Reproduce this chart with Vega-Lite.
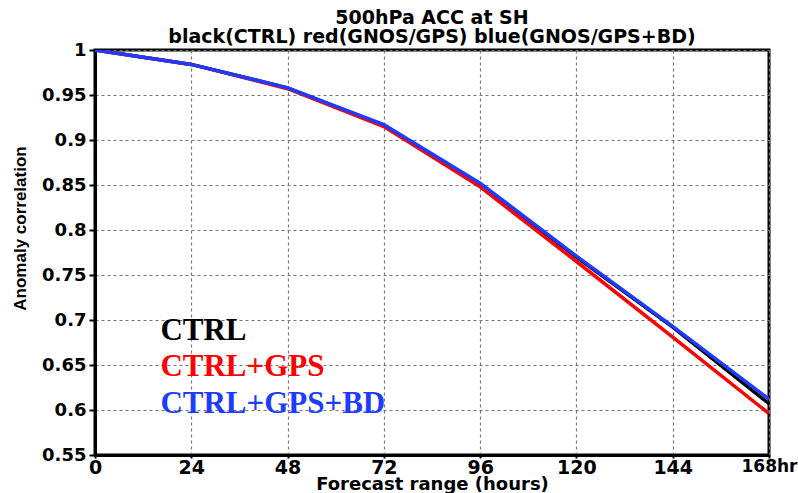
{
  "$schema": "https://vega.github.io/schema/vega-lite/v6.json",
  "width": 674,
  "height": 405,
  "autosize": "none",
  "padding": {"left": 95, "top": 50, "right": 29, "bottom": 38},
  "background": "white",
  "title": {
    "text": ["500hPa ACC at SH", "black(CTRL) red(GNOS/GPS) blue(GNOS/GPS+BD)"],
    "font": "DejaVu Sans",
    "fontSize": 19,
    "fontWeight": "bold",
    "color": "black",
    "anchor": "middle",
    "lineHeight": 19,
    "offset": -6
  },
  "config": {
    "view": {"stroke": "black", "strokeWidth": 3},
    "axis": {
      "labelFont": "DejaVu Sans",
      "labelFontSize": 18,
      "labelFontWeight": "bold",
      "labelColor": "black",
      "titleColor": "black",
      "domainColor": "black",
      "domainWidth": 3,
      "tickColor": "black",
      "tickWidth": 2,
      "gridColor": "#777777",
      "gridDash": [3, 3],
      "gridWidth": 1.2,
      "gridOpacity": 1,
      "labelFlush": false
    }
  },
  "datasets": {
    "lines": [
      {"h": 0, "acc": 1.0, "exp": "CTRL"},
      {"h": 24, "acc": 0.984, "exp": "CTRL"},
      {"h": 48, "acc": 0.958, "exp": "CTRL"},
      {"h": 72, "acc": 0.916, "exp": "CTRL"},
      {"h": 96, "acc": 0.851, "exp": "CTRL"},
      {"h": 120, "acc": 0.770, "exp": "CTRL"},
      {"h": 144, "acc": 0.692, "exp": "CTRL"},
      {"h": 168, "acc": 0.607, "exp": "CTRL"},
      {"h": 0, "acc": 1.0, "exp": "CTRL+GPS"},
      {"h": 24, "acc": 0.984, "exp": "CTRL+GPS"},
      {"h": 48, "acc": 0.957, "exp": "CTRL+GPS"},
      {"h": 72, "acc": 0.915, "exp": "CTRL+GPS"},
      {"h": 96, "acc": 0.848, "exp": "CTRL+GPS"},
      {"h": 120, "acc": 0.765, "exp": "CTRL+GPS"},
      {"h": 144, "acc": 0.681, "exp": "CTRL+GPS"},
      {"h": 168, "acc": 0.596, "exp": "CTRL+GPS"},
      {"h": 0, "acc": 1.0, "exp": "CTRL+GPS+BD"},
      {"h": 24, "acc": 0.984, "exp": "CTRL+GPS+BD"},
      {"h": 48, "acc": 0.958, "exp": "CTRL+GPS+BD"},
      {"h": 72, "acc": 0.917, "exp": "CTRL+GPS+BD"},
      {"h": 96, "acc": 0.852, "exp": "CTRL+GPS+BD"},
      {"h": 120, "acc": 0.771, "exp": "CTRL+GPS+BD"},
      {"h": 144, "acc": 0.693, "exp": "CTRL+GPS+BD"},
      {"h": 168, "acc": 0.612, "exp": "CTRL+GPS+BD"}
    ],
    "labels": [
      {"h": 16.3, "acc": 0.678, "exp": "CTRL"},
      {"h": 16.3, "acc": 0.638, "exp": "CTRL+GPS"},
      {"h": 16.3, "acc": 0.597, "exp": "CTRL+GPS+BD"}
    ]
  },
  "layer": [
    {
      "data": {"name": "lines"},
      "mark": {"type": "line", "strokeWidth": 3.5, "clip": true},
      "encoding": {
        "x": {
          "field": "h",
          "type": "quantitative",
          "scale": {"domain": [0, 168], "nice": false, "zero": false},
          "axis": {
            "values": [0, 24, 48, 72, 96, 120, 144, 168],
            "labelExpr": "datum.value == 168 ? '168hr' : datum.label",
            "labelFontSize": {"condition": {"test": "datum.value == 168", "value": 17}, "value": 19},
            "tickSize": 3,
            "labelPadding": 0,
            "title": "Forecast range (hours)",
            "titleFont": "DejaVu Sans",
            "titleFontSize": 18,
            "titleFontWeight": "bold",
            "titlePadding": -2
          }
        },
        "y": {
          "field": "acc",
          "type": "quantitative",
          "scale": {"domain": [0.55, 1], "nice": false, "zero": false},
          "axis": {
            "values": [0.55, 0.6, 0.65, 0.7, 0.75, 0.8, 0.85, 0.9, 0.95, 1],
            "labelExpr": "datum.value == 1 ? '1' : format(datum.value, '.2~f')",
            "tickSize": 6,
            "labelPadding": 3,
            "title": "Anomaly correlation",
            "titleFont": "Liberation Sans",
            "titleFontSize": 17,
            "titleFontWeight": "bold",
            "titlePadding": 12,
            "titleY": 178
          }
        },
        "color": {
          "field": "exp",
          "type": "nominal",
          "scale": {"domain": ["CTRL", "CTRL+GPS", "CTRL+GPS+BD"], "range": ["#000000", "#ff0000", "#1e3cff"]},
          "legend": null
        },
        "order": {"field": "exp"}
      }
    },
    {
      "data": {"name": "labels"},
      "mark": {"type": "text", "align": "left", "baseline": "alphabetic", "font": "Liberation Serif", "fontSize": 31, "fontWeight": "bold"},
      "encoding": {
        "x": {"field": "h", "type": "quantitative"},
        "y": {"field": "acc", "type": "quantitative"},
        "text": {"field": "exp"},
        "color": {"field": "exp", "type": "nominal", "legend": null}
      }
    }
  ]
}
